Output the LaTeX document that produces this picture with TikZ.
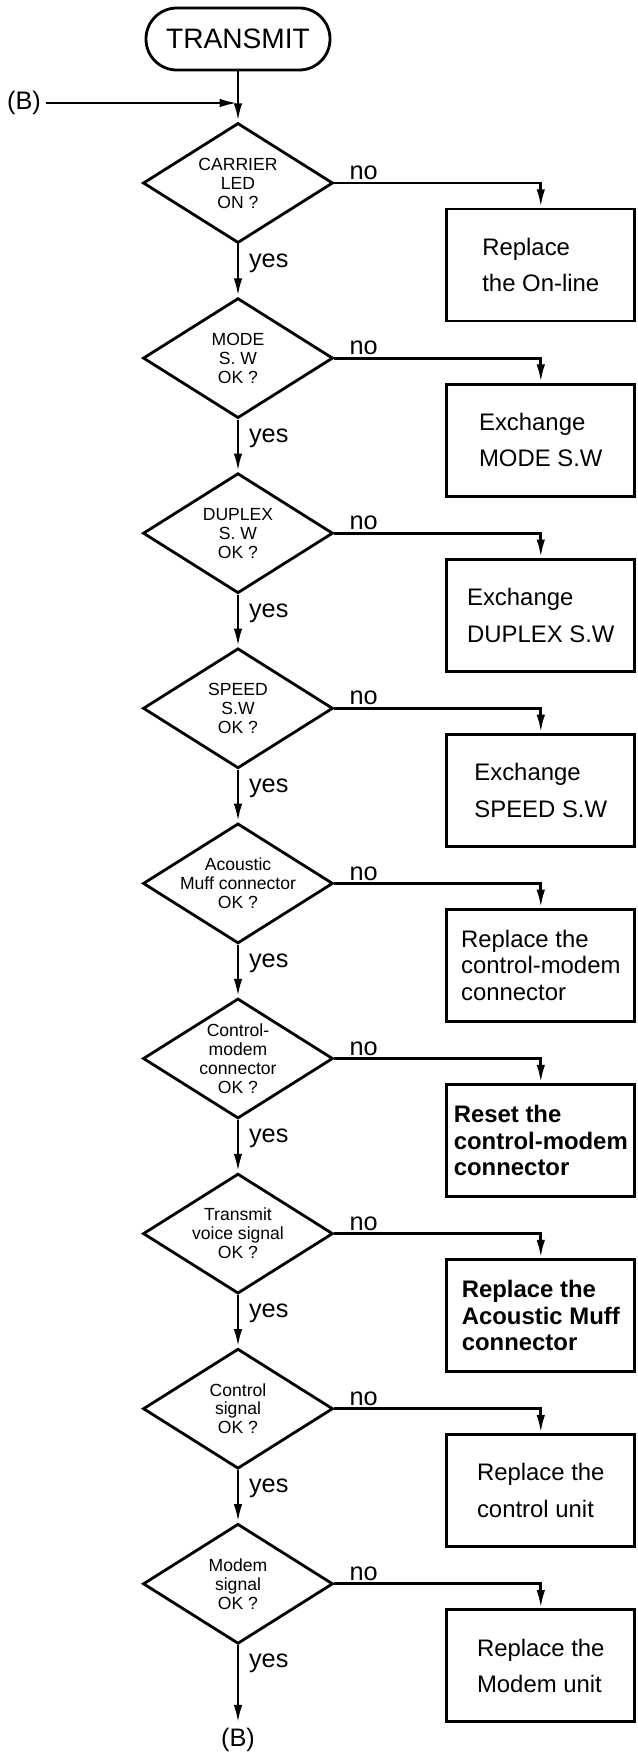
\documentclass[tikz,border=0pt]{standalone}
\usepackage{fontspec}
\setmainfont{Liberation Sans}
\usetikzlibrary{arrows.meta, positioning, shapes.geometric}
\tikzset{
  tbox/.style={draw, line width=2pt, rounded corners=0.77cm,
               minimum width=4.6cm, minimum height=1.55cm,
               font=\fontsize{20}{22}\selectfont},
  dbox/.style={draw, diamond, line width=2pt, inner sep=0pt,
               minimum width=4.75cm, minimum height=3cm},
  dtext/.style={align=center, font=\fontsize{12.5}{13.5}\selectfont},
  rbox/.style={draw, line width=2pt, minimum width=4.7cm, minimum height=2.8cm,
               align=left, font=\fontsize{17}{19}\selectfont},
  rboxb/.style={rbox, font=\fontsize{17}{19}\selectfont\bfseries},
  lbl/.style={font=\fontsize{18}{20}\selectfont},
  arr/.style={-{Latex[length=13pt, width=6pt]}, line width=2pt},
}
\begin{document}
\begin{tikzpicture}
  \useasboundingbox (0,0) rectangle (15.925,-43.875);
  \node[tbox] (start) at (5.95,-0.975) {TRANSMIT};
  \node[lbl] (bin) at (0.6,-2.575) {(B)};
  \coordinate (join) at (5.95,-2.575);
  \foreach \i/\q/\r/\st in {
    1/{CARRIER\\LED\\ON ?}/{Replace\\[7pt]the On-line}/rbox,
    2/{MODE\\S. W\\OK ?}/{Exchange\\[7pt]MODE S.W}/rbox,
    3/{DUPLEX\\S. W\\OK ?}/{Exchange\\[7pt]DUPLEX S.W}/rbox,
    4/{SPEED\\S.W\\OK ?}/{Exchange\\[7pt]SPEED S.W}/rbox,
    5/{Acoustic\\Muff connector\\OK ?}/{Replace the\\control-modem\\connector}/rbox,
    6/{Control-\\modem\\connector\\OK ?}/{Reset the\\control-modem\\connector}/rboxb,
    7/{Transmit\\voice signal\\OK ?}/{Replace the\\Acoustic Muff\\connector}/rboxb,
    8/{Control\\signal\\OK ?}/{Replace the\\[7pt]control unit}/rbox,
    9/{Modem\\signal\\OK ?}/{Replace the\\[7pt]Modem unit}/rbox}{
    \pgfmathsetmacro\yy{-4.575-4.3775*(\i-1)}
    \node[dbox] (d\i) at (5.95,\yy) {};
    \node[dtext] (q\i) at (d\i) {\q};
    \node[\st] (r\i) at ({13.52},{\yy-2.05}) {\r};
    \node[lbl, anchor=south west, inner sep=2pt] (n\i) at ([xshift=0.3cm]d\i.east) {no};
    \node[lbl, anchor=north west, inner sep=2pt] (y\i) at ([xshift=0.2cm,yshift=-0.15cm]d\i.south) {yes};
    \draw[arr] (d\i.east) -| (r\i.north);
  }
  \node[lbl] (bout) at (5.95,-43.5) {(B)};
  % main line
  \draw[arr] (start) -- (d1.north);
  \draw[arr] (bin) -- (join);
  \foreach \i [evaluate=\i as \j using int(\i+1)] in {1,...,8}
    \draw[arr] (d\i.south) -- (d\j.north);
  \draw[arr] (d9.south) -- (bout);
\end{tikzpicture}
\end{document}
